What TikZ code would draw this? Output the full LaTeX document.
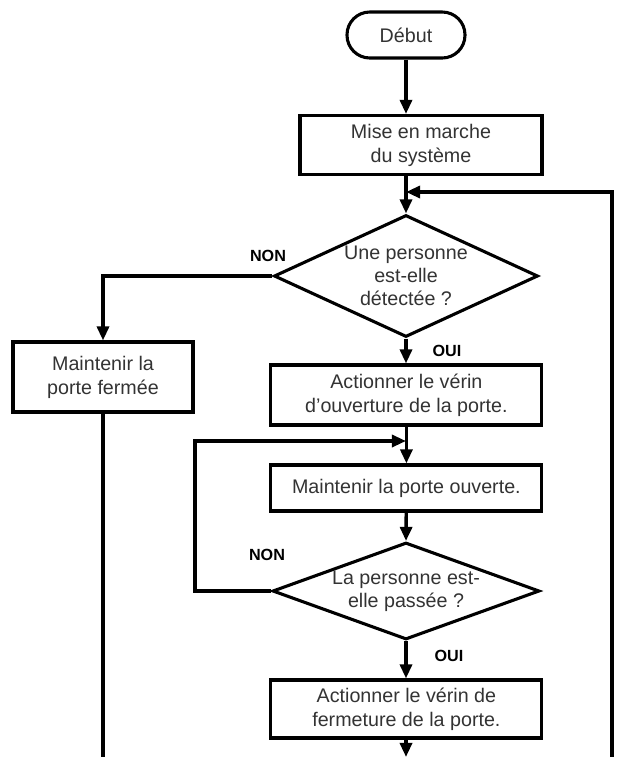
\documentclass[tikz,border=0pt]{standalone}
\usepackage{fontspec}
\setmainfont{Liberation Sans}
\usetikzlibrary{arrows.meta,shapes.geometric}

\begin{document}
\begin{tikzpicture}[
    box/.style={
        rectangle, draw, line width=2.2pt, text=black!80,
        minimum width=6.775cm, minimum height=1.5cm,
        align=center, font=\fontsize{14}{17}\selectfont
    },
    startbox/.style={
        rectangle, draw, line width=2.2pt, rounded corners=0.57cm, text=black!80,
        minimum width=2.95cm, minimum height=1.15cm,
        font=\fontsize{14}{17}\selectfont
    },
    decision/.style={
        diamond, draw, line width=2.2pt, inner sep=0pt,
        minimum width=6.6cm, minimum height=3.05cm
    },
    asklabel/.style={align=center, text=black!80, font=\fontsize{14}{16.5}\selectfont},
    answer/.style={font=\fontsize{11.5}{13}\selectfont\bfseries},
    arrow/.style={-{Triangle[length=10pt,width=8.5pt]}, line width=2.4pt},
    line/.style={line width=2.4pt}
]
\useasboundingbox (0,0) rectangle (15.6,-18.925);

% Start
\node[startbox] (debut) at (10.15,-0.875) {Début};
\node[box, minimum width=6.05cm, minimum height=1.475cm] (mise) at (10.525,-3.625) {Mise en marche\\du système};

% First test
\node[decision, label={[asklabel]center:Une personne\\est-elle\\détectée ?}] (q1) at (10.15,-6.9) {};
\node[box, minimum width=4.5cm, minimum height=1.75cm] (ferme) at (2.575,-9.425) {Maintenir la\\porte fermée};
\node[box] (ouvre) at (10.16,-9.875) {Actionner le vérin\\d'ouverture de la porte.};
\node[box, minimum height=1.15cm] (maintien) at (10.16,-12.2) {Maintenir la porte ouverte.};

% Second test
\node[decision, minimum width=6.675cm, minimum height=2.425cm,
      label={[asklabel]center:La personne est-\\elle passée ?}] (q2) at (10.15,-14.775) {};
\node[box, minimum height=1.45cm] (fermeture) at (10.16,-17.725) {Actionner le vérin de\\fermeture de la porte.};

% Answers
\node[answer] (non1) at (6.7,-6.4) {NON};
\node[answer] (oui1) at (11.175,-8.775) {OUI};
\node[answer] (non2) at (6.675,-13.875) {NON};
\node[answer] (oui2) at (11.225,-16.4) {OUI};

% Joins and loose ends
\coordinate (merge1) at (10.15,-4.8);
\coordinate (merge2) at (10.15,-11.025);
\coordinate (loop) at (4.875,-11.025);
\coordinate (endL) at (2.575,-18.925);
\coordinate (endM) at (10.15,-18.925);
\coordinate (endR) at (15.3,-18.925);

% Arrows
\draw[arrow] (debut) -- (debut |- mise.north);
\draw[arrow] (mise.south -| q1.north) -- (q1.north);
\draw[arrow] (q1.west) -| (ferme.north);
\draw[arrow] (q1.south) -- (ouvre.north -| q1.south);
\draw[arrow] (ouvre.south -| maintien.north) -- (maintien.north);
\draw[arrow] (maintien) -- (q2.north);
\draw[arrow] (q2.south) -- (fermeture.north -| q2.south);
\draw[arrow] (fermeture.south -| endM) -- (endM);
\draw[arrow] (q2.west) -| (loop) -- (merge2);
\draw[arrow] (endR) |- (merge1);
\draw[line] (ferme.south) -- (endL);

\end{tikzpicture}
\end{document}
